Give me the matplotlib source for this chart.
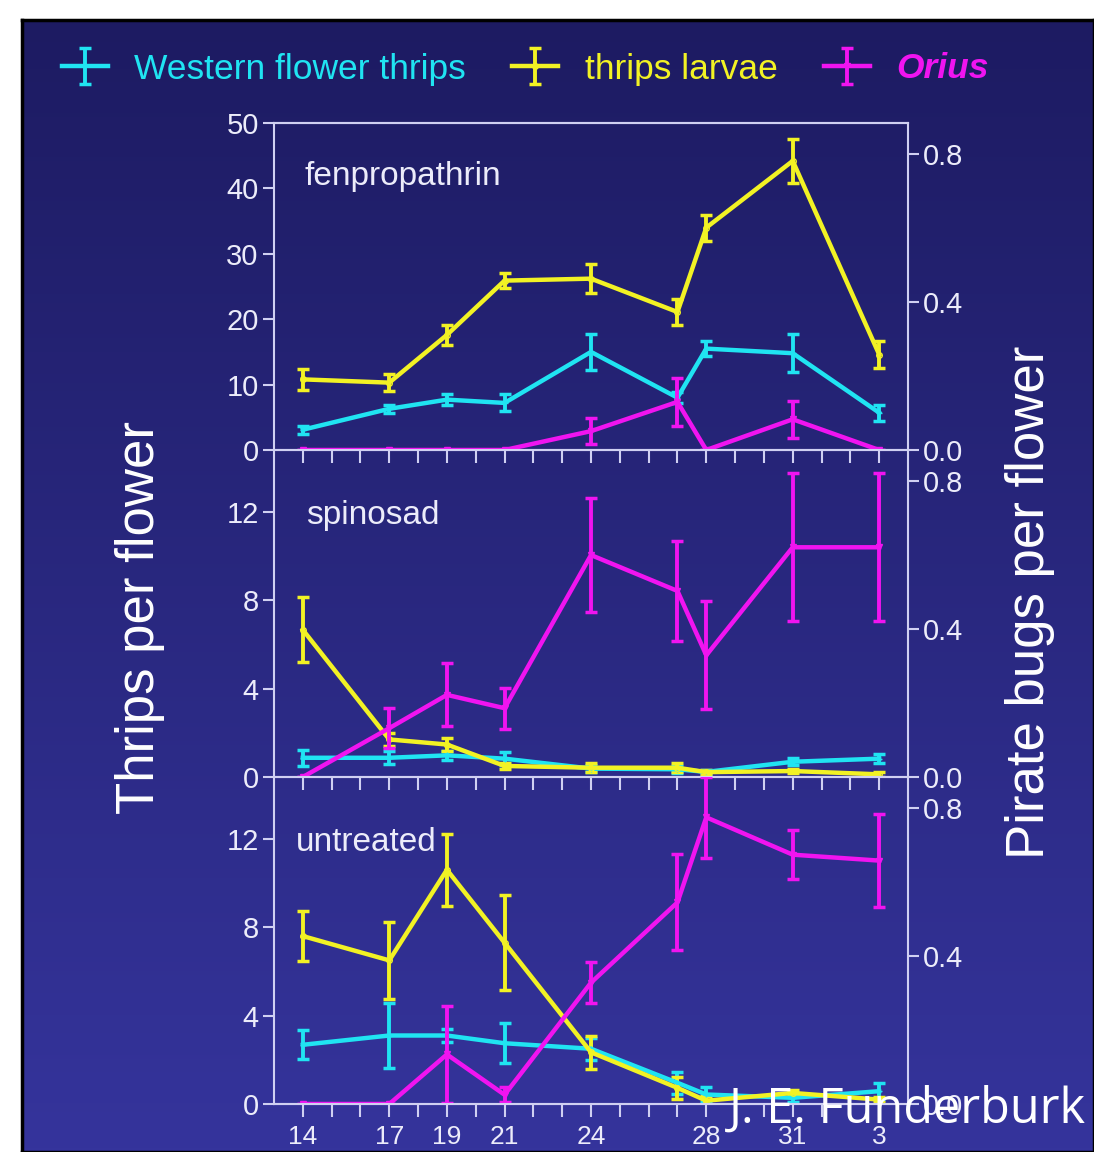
import matplotlib.pyplot as plt
import numpy as np
from matplotlib.colors import LinearSegmentedColormap

plt.rcParams['font.family'] = ['Liberation Sans', 'DejaVu Sans']

# sampling dates, as day of May (34 = June 3)
days = [14, 17, 19, 21, 24, 27, 28, 31, 34]
tick_days = [14, 17, 19, 21, 24, 28, 31, 34]
tick_labels = ['14', '17', '19', '21', '24', '28', '31', '3']

panel_names = ['fenpropathrin', 'spinosad', 'untreated']

# fenpropathrin
fen_wft = [3.1, 6.3, 7.7, 7.2, 15.0, 8.0, 15.5, 14.8, 5.7]
fen_wft_err = [0.6, 0.6, 0.8, 1.3, 2.8, 0.8, 1.2, 2.9, 1.2]
fen_larvae = [10.8, 10.3, 17.6, 25.9, 26.2, 21.1, 34.0, 44.2, 14.6]
fen_larvae_err = [1.6, 1.3, 1.5, 1.2, 2.2, 2.0, 2.0, 3.3, 2.0]
fen_orius = [0, 0, 0, 0, 0.051, 0.13, 0, 0.083, 0]
fen_orius_err = [0, 0, 0, 0, 0.035, 0.065, 0, 0.05, 0]

# spinosad
spi_wft = [0.87, 0.87, 0.98, 0.83, 0.38, 0.35, 0.23, 0.69, 0.83]
spi_wft_err = [0.35, 0.3, 0.2, 0.3, 0.15, 0.15, 0.1, 0.15, 0.2]
spi_larvae = [6.66, 1.7, 1.47, 0.5, 0.42, 0.42, 0.22, 0.27, 0.12]
spi_larvae_err = [1.47, 0.3, 0.3, 0.15, 0.2, 0.2, 0.1, 0.1, 0.1]
spi_orius = [0, 0.132, 0.222, 0.186, 0.60, 0.503, 0.329, 0.621, 0.621]
spi_orius_err = [0, 0.054, 0.085, 0.055, 0.155, 0.135, 0.146, 0.2, 0.2]

# untreated
unt_wft = [2.68, 3.1, 3.1, 2.75, 2.5, 0.96, 0.43, 0.28, 0.58]
unt_wft_err = [0.65, 1.45, 0.3, 0.9, 0.5, 0.5, 0.35, 0.2, 0.35]
unt_larvae = [7.6, 6.5, 10.6, 7.3, 2.34, 0.73, 0.15, 0.5, 0.2]
unt_larvae_err = [1.13, 1.73, 1.63, 2.15, 0.75, 0.5, 0.2, 0.15, 0.1]
unt_orius = [0, 0, 0.134, 0.025, 0.328, 0.545, 0.775, 0.674, 0.658]
unt_orius_err = [0, 0, 0.13, 0.02, 0.055, 0.13, 0.11, 0.066, 0.125]

thrips_ylim = [50, 14.8, 14.8]
thrips_ticks = [[0, 10, 20, 30, 40, 50], [0, 4, 8, 12], [0, 4, 8, 12]]
orius_ticks = [0.0, 0.4, 0.8]

panels = [
    (fen_wft, fen_wft_err, fen_larvae, fen_larvae_err, fen_orius, fen_orius_err),
    (spi_wft, spi_wft_err, spi_larvae, spi_larvae_err, spi_orius, spi_orius_err),
    (unt_wft, unt_wft_err, unt_larvae, unt_larvae_err, unt_orius, unt_orius_err),
]

cyan = '#20e4f2'
yellow = '#f2f224'
magenta = '#f014f0'
axis_col = '#d0d0f2'
text_col = '#ececfa'

W, H = 1094, 1152
fig = plt.figure(figsize=(W / 100, H / 100), dpi=100)

# gradient slide background with black frame
bg = fig.add_axes([22 / W, 0, 1 - 22 / W, 1 - 20 / H], zorder=-10)
cmap = LinearSegmentedColormap.from_list('slide', ['#1d1b62', '#35349c'])
bg.imshow(np.linspace(0, 1, 256).reshape(-1, 1), aspect='auto', cmap=cmap,
          extent=[0, 1, 0, 1])
bg.set_xticks([])
bg.set_yticks([])
for s in bg.spines.values():
    s.set_color('black')
    s.set_linewidth(2.5)

left, width, height = 274 / W, 634 / W, 327 / H
bottoms = [702 / H, 375 / H, 48 / H]
label_pos = [(0.048, 0.835), (0.05, 0.80), (0.035, 0.80)]

eb_kw = dict(lw=3.2, elinewidth=2.8, capsize=4, capthick=2.5, ms=4)
handles = []
for i, (wft, wft_e, lar, lar_e, ori, ori_e) in enumerate(panels):
    ax = fig.add_axes([left, bottoms[i], width, height])
    ax.set_facecolor('none')
    ax2 = ax.twinx()
    ax2.set_facecolor('none')

    h1 = ax.errorbar(days, wft, yerr=wft_e, color=cyan, marker='+', **eb_kw)
    h2 = ax.errorbar(days, lar, yerr=lar_e, color=yellow, marker='o', mfc='none', **eb_kw)
    h3 = ax2.errorbar(days, ori, yerr=ori_e, color=magenta, marker='v', **eb_kw)
    if i == 0:
        handles = [h1, h2, h3]

    ax.set_xlim(13, 35)
    ax.set_ylim(0, thrips_ylim[i])
    ax2.set_ylim(0, 0.884)
    ax.set_yticks(thrips_ticks[i])
    ax2.set_yticks(orius_ticks)
    ax2.set_yticklabels([f'{t:.1f}' for t in orius_ticks])

    ax.set_xticks(range(14, 35), minor=True)
    if i == 2:
        ax.set_xticks(tick_days)
        ax.set_xticklabels(tick_labels)
    else:
        ax.set_xticks([])

    for a in (ax, ax2):
        a.tick_params(which='both', direction='out', color=axis_col, width=1.5,
                      labelcolor=text_col, labelsize=21, length=8, pad=3)
        a.tick_params(axis='x', which='both', length=9, labelsize=19, pad=6)
        for s in a.spines.values():
            s.set_color(axis_col)
            s.set_linewidth(1.5)
        if i > 0:
            a.spines['top'].set_visible(False)
    ax.spines['right'].set_visible(False)
    ax2.spines['left'].set_visible(False)

    ax.text(label_pos[i][0], label_pos[i][1], panel_names[i], transform=ax.transAxes,
            color=text_col, fontsize=24, va='center')

leg = fig.legend(handles, ['Western flower thrips', 'thrips larvae', 'Orius'],
                 loc='center left', bbox_to_anchor=(30 / W, 1 - 69 / H), ncol=3,
                 frameon=False, fontsize=25.5, handlelength=1.3, columnspacing=1.3,
                 handletextpad=0.75, labelcolor=[cyan, yellow, magenta])
leg.get_texts()[2].set_style('italic')
leg.get_texts()[2].set_weight('bold')

fig.text(140 / W, 1 - 618 / H, 'Thrips per flower', rotation=90, color='white',
         fontsize=38, ha='center', va='center')
fig.text(1030 / W, 1 - 602 / H, 'Pirate bugs per flower', rotation=90, color='white',
         fontsize=38, ha='center', va='center')

fig.text(1086 / W, 1 - 1110 / H, 'J. E. Funderburk', family=['Open Sans', 'DejaVu Sans'],
         fontsize=35, color='white', ha='right', va='center')

fig.savefig('out.png', dpi=100)
